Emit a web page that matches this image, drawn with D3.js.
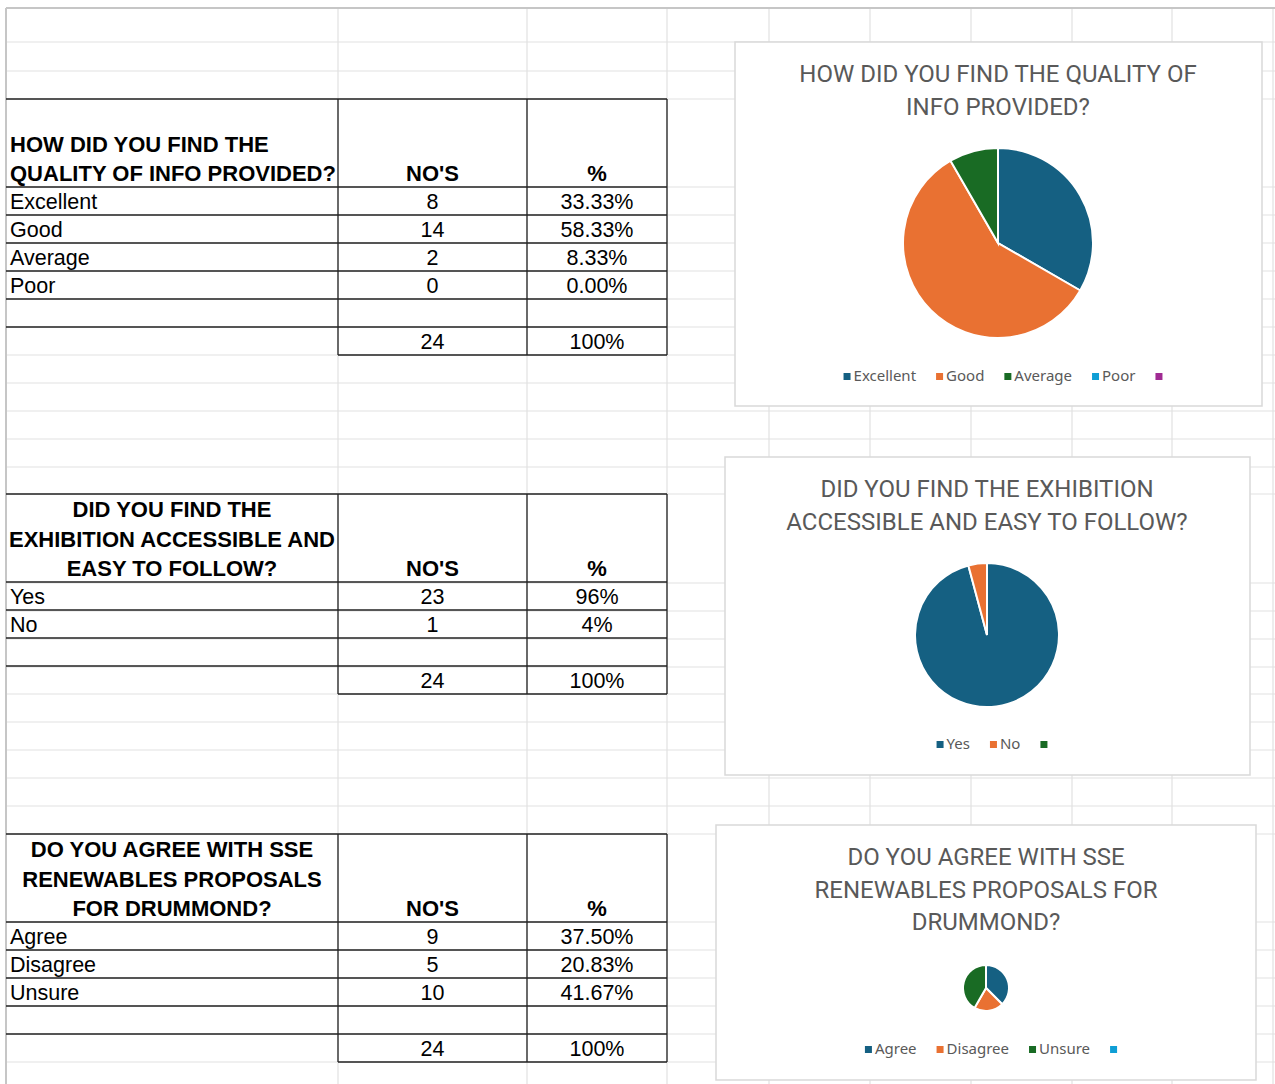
<!DOCTYPE html>
<html>
<head>
<meta charset="utf-8">
<script src="https://cdn.jsdelivr.net/npm/d3@7"></script>
<style>
  body { margin: 0; background: #fff; }
  .cell { font-family: "Liberation Sans", Arial, sans-serif; font-size: 21.5px; fill: #000; }
  .head { font-weight: bold; font-size: 22px; }
  .ctitle { font-family: Roboto, "Open Sans", sans-serif; font-size: 24px; fill: #595959; }
  .leg { font-family: "Noto Sans", sans-serif; font-size: 15px; fill: #595959; }
</style>
</head>
<body>
<div id="sheet"></div>
<script>
// --- data read from the sheet ---
var q1Title = ['HOW DID YOU FIND THE', 'QUALITY OF INFO PROVIDED?'],
	q1Chart = ['HOW DID YOU FIND THE QUALITY OF', 'INFO PROVIDED?'],
	q1Cats = ['Excellent', 'Good', 'Average', 'Poor'],
	q1Counts = [8, 14, 2, 0],
	q1Pct = ['33.33%', '58.33%', '8.33%', '0.00%'],
	q1Legend = ['Excellent', 'Good', 'Average', 'Poor', ''];

var q2Title = ['DID YOU FIND THE', 'EXHIBITION ACCESSIBLE AND', 'EASY TO FOLLOW?'],
	q2Chart = ['DID YOU FIND THE EXHIBITION', 'ACCESSIBLE AND EASY TO FOLLOW?'],
	q2Cats = ['Yes', 'No'],
	q2Counts = [23, 1],
	q2Pct = ['96%', '4%'],
	q2Legend = ['Yes', 'No', ''];

var q3Title = ['DO YOU AGREE WITH SSE', 'RENEWABLES PROPOSALS', 'FOR DRUMMOND?'],
	q3Chart = ['DO YOU AGREE WITH SSE', 'RENEWABLES PROPOSALS FOR', 'DRUMMOND?'],
	q3Cats = ['Agree', 'Disagree', 'Unsure'],
	q3Counts = [9, 5, 10],
	q3Pct = ['37.50%', '20.83%', '41.67%'],
	q3Legend = ['Agree', 'Disagree', 'Unsure', ''];

var totalCount = 24, totalPct = '100%';

// office palette
var colors = ['#156082', '#e97132', '#196b24', '#0f9ed5', '#a02b93'];

// --- layout of the sheet ---
var W = 1275, H = 1084,
	colX = [6, 338, 527, 667, 769, 870, 971, 1072, 1172, 1273],
	headH = 88, rowH = 28;

var svg = d3.select('#sheet').append('svg')
	.attr('width', W)
	.attr('height', H);

// grid rows (light grey)
var gridY = [8, 42, 71, 99, 187, 215, 243, 271, 299, 327, 355, 383, 411, 439, 467,
	494, 583, 611, 639, 667, 694, 722, 750, 778, 806, 834, 922, 950, 978, 1006, 1034, 1062, 1090];

svg.selectAll('.gridH')
	.data(gridY)
	.enter().append('line')
	.attr('x1', 6).attr('x2', W)
	.attr('y1', function(d) { return d; }).attr('y2', function(d) { return d; })
	.attr('stroke', '#e1e1e1').attr('stroke-width', 1.2);

svg.selectAll('.gridV')
	.data(colX.slice(1))
	.enter().append('line')
	.attr('x1', function(d) { return d; }).attr('x2', function(d) { return d; })
	.attr('y1', 8).attr('y2', H)
	.attr('stroke', '#e1e1e1').attr('stroke-width', 1.2);

svg.append('line').attr('x1', 6).attr('x2', W).attr('y1', 8).attr('y2', 8)
	.attr('stroke', '#c6c6c6').attr('stroke-width', 2);
svg.append('line').attr('x1', 6).attr('x2', 6).attr('y1', 8).attr('y2', H)
	.attr('stroke', '#c6c6c6').attr('stroke-width', 2);

function drawTable(top, title, centred, cats, counts, pcts) {
	var g = svg.append('g');
	var nRows = cats.length + 2;
	var ys = [top, top + headH];
	for (var i = 1; i <= nRows; i++) ys.push(top + headH + rowH * i);
	var bottom = ys[ys.length - 1];

	// horizontal borders
	ys.forEach(function(y, i) {
		var partial = i == ys.length - 1;
		g.append('line')
			.attr('x1', partial ? colX[1] : colX[0]).attr('x2', colX[3])
			.attr('y1', y).attr('y2', y)
			.attr('stroke', '#222').attr('stroke-width', 1.3);
	});
	// vertical borders
	[1, 2, 3].forEach(function(c) {
		g.append('line')
			.attr('x1', colX[c]).attr('x2', colX[c])
			.attr('y1', top).attr('y2', bottom)
			.attr('stroke', '#222').attr('stroke-width', 1.3);
	});

	// header
	var lastBase = top + headH - 6;
	title.forEach(function(t, i) {
		g.append('text')
			.attr('class', 'cell head')
			.attr('x', centred ? (colX[0] + colX[1]) / 2 : 10)
			.attr('y', lastBase - (title.length - 1 - i) * 29.5)
			.style('text-anchor', centred ? 'middle' : 'start')
			.text(t);
	});
	g.append('text').attr('class', 'cell head')
		.attr('x', (colX[1] + colX[2]) / 2).attr('y', lastBase)
		.style('text-anchor', 'middle').text("NO'S");
	g.append('text').attr('class', 'cell head')
		.attr('x', (colX[2] + colX[3]) / 2).attr('y', lastBase)
		.style('text-anchor', 'middle').text('%');

	var base = function(i) { return top + headH + rowH * (i + 1) - 6; };
	g.selectAll('.lab').data(cats).enter().append('text')
		.attr('class', 'cell').attr('x', 10)
		.attr('y', function(d, i) { return base(i); })
		.text(function(d) { return d; });
	g.selectAll('.num').data(counts).enter().append('text')
		.attr('class', 'cell').attr('x', (colX[1] + colX[2]) / 2)
		.attr('y', function(d, i) { return base(i); })
		.style('text-anchor', 'middle')
		.text(function(d) { return d; });
	g.selectAll('.pct').data(pcts).enter().append('text')
		.attr('class', 'cell').attr('x', (colX[2] + colX[3]) / 2)
		.attr('y', function(d, i) { return base(i); })
		.style('text-anchor', 'middle')
		.text(function(d) { return d; });

	// totals
	g.append('text').attr('class', 'cell')
		.attr('x', (colX[1] + colX[2]) / 2).attr('y', base(nRows - 1))
		.style('text-anchor', 'middle').text(totalCount);
	g.append('text').attr('class', 'cell')
		.attr('x', (colX[2] + colX[3]) / 2).attr('y', base(nRows - 1))
		.style('text-anchor', 'middle').text(totalPct);
}

function drawChart(box, title, titleY, counts, legend, pieC, r, legendY) {
	var g = svg.append('g');
	g.append('rect')
		.attr('x', box[0]).attr('y', box[1])
		.attr('width', box[2] - box[0]).attr('height', box[3] - box[1])
		.attr('fill', '#fff').attr('stroke', '#d9d9d9').attr('stroke-width', 1.5);

	var cx = pieC[0];
	title.forEach(function(t, i) {
		g.append('text').attr('class', 'ctitle')
			.attr('x', cx).attr('y', titleY + i * 32.5)
			.style('text-anchor', 'middle')
			.text(t);
	});

	var pie = d3.pie().sort(null).value(function(d) { return d; });
	var arc = d3.arc().innerRadius(0).outerRadius(r);
	g.append('g')
		.attr('transform', 'translate(' + pieC[0] + ',' + pieC[1] + ')')
		.selectAll('path')
		.data(pie(counts).filter(function(d) { return d.value > 0; }))
		.enter().append('path')
		.attr('d', arc)
		.attr('fill', function(d) { return colors[d.index]; })
		.attr('stroke', '#fff').attr('stroke-width', 2);

	// legend, centred under the pie
	var lg = g.append('g');
	var items = lg.selectAll('.item').data(legend).enter().append('g');
	items.append('rect')
		.attr('width', 7).attr('height', 7)
		.attr('y', legendY - 8)
		.attr('fill', function(d, i) { return colors[i]; });
	items.append('text').attr('class', 'leg')
		.attr('x', 10).attr('y', legendY)
		.text(function(d) { return d; });
	var x = 0;
	items.each(function() {
		var w = this.querySelector('text').getComputedTextLength();
		d3.select(this).attr('transform', 'translate(' + x + ',0)');
		x += 10 + w + (w > 0 ? 20 : 7);
	});
	var total = x - 20;
	lg.attr('transform', 'translate(' + (cx - total / 2) + ',0)');
}

drawTable(99, q1Title, false, q1Cats, q1Counts, q1Pct);
drawTable(494, q2Title, true, q2Cats, q2Counts, q2Pct);
drawTable(834, q3Title, true, q3Cats, q3Counts, q3Pct);

drawChart([735, 42, 1262, 406], q1Chart, 82, q1Counts, q1Legend, [998, 243], 95, 381);
drawChart([725, 457, 1250, 775], q2Chart, 497, q2Counts, q2Legend, [987, 635], 72, 749);
drawChart([716, 825, 1256, 1080], q3Chart, 865, q3Counts, q3Legend, [986, 988], 23, 1054);
</script>
</body>
</html>
